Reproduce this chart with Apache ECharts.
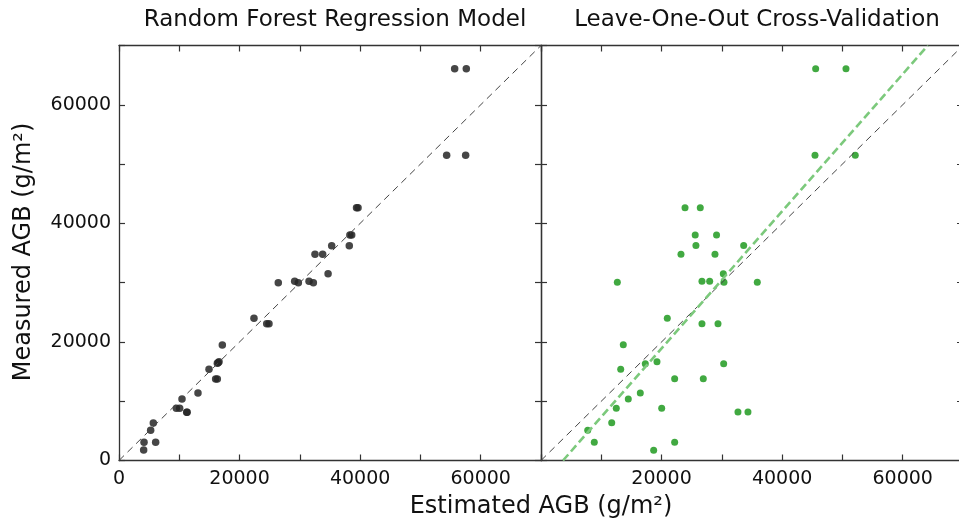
<!DOCTYPE html>
<html><head><meta charset="utf-8">
<script src="https://cdn.jsdelivr.net/npm/echarts@6/dist/echarts.min.js"></script>
<style>html,body{margin:0;padding:0;background:#fff}#c{width:959px;height:525px}</style>
</head><body><div id="c"></div>
<script>
// Random Forest model: estimated (x) vs measured (y)
const rfX = [55680,57610,54350,57500,39400,39650,38300,38600,38200,35280,32510,33780,34680,26420,29140,29750,31520,32240,22390,24500,24880,17140,16590,16310,16450,14930,16030,16310,13100,10450,9510,10060,11230,11300,5690,5250,4150,6080,4090];
const rfY = [66090,66090,51480,51480,42640,42640,38040,38040,36230,36230,34780,34780,31510,29990,30230,29990,30230,29990,23990,23080,23080,19480,16660,16390,16500,15380,13750,13750,11390,10370,8800,8800,8130,8130,6320,5090,3070,3070,1770];
// Leave-one-out CV: estimated (x) vs measured (y)
const looX = [45560,50590,45450,52130,23890,26420,25580,29120,25700,33620,23220,28860,30240,12660,26700,30350,27980,35880,20950,26700,29360,13650,19240,17300,30300,13220,22170,26920,16470,14480,12490,20020,32670,34330,11730,7750,8840,22170,18690];
const looY = [66090,66090,51480,51480,42640,42640,38040,38040,36280,36280,34780,34780,31510,30060,30230,30060,30230,30060,23990,23080,23080,19530,16660,16330,16330,15380,13800,13800,11390,10370,8800,8800,8180,8180,6380,5090,3070,3070,1720];
// CV regression fit line (y = slope*x + intercept)
const fitSlope = 1.1565;
const fitIntercept = -4221;
const axisMax = 70000;
const titles = ['Random Forest Regression Model', 'Leave-One-Out Cross-Validation'];
const xName = 'Estimated AGB (g/m²)';
const yName = 'Measured AGB (g/m²)';

const FONT = 'DejaVu Sans';
const AXC = '#333';
const zip = (a,b) => a.map((v,i)=>[v,b[i]]);
const fitLine = [[(0-fitIntercept)/fitSlope, 0], [(axisMax-fitIntercept)/fitSlope, axisMax]];

function xAx(gi, pos, showLab, hideZero){
  return {type:'value', gridIndex:gi, position:pos, min:0, max:axisMax, interval:10000,
    axisLine:{show:true, onZero:false, lineStyle:{color:AXC, width:1.3}},
    axisTick:{show:true, inside:true, length:6, lineStyle:{color:AXC, width:1.2}},
    splitLine:{show:false},
    axisLabel:{show:showLab, color:'#111', fontFamily:FONT, fontSize:19, margin:9,
      formatter:v => (v % 20000 === 0 && !(hideZero && v===0)) ? String(v) : ''}};
}
function yAx(gi, pos, showLab){
  return {type:'value', gridIndex:gi, position:pos, min:0, max:axisMax, interval:10000,
    axisLine:{show:true, onZero:false, lineStyle:{color:AXC, width:1.3}},
    axisTick:{show:true, inside:true, length:6, lineStyle:{color:AXC, width:1.2}},
    splitLine:{show:false},
    axisLabel:{show:showLab, color:'#111', fontFamily:FONT, fontSize:19, margin:8,
      formatter:v => (v % 20000 === 0) ? String(v) : ''}};
}

const chart = echarts.init(document.getElementById('c'), null, {renderer:'canvas'});
chart.setOption({
  backgroundColor:'#fff',
  animation:false,
  title:[
    {text:titles[0], left:330, top:4, textAlign:'center', textStyle:{fontFamily:FONT, fontSize:23, fontWeight:'normal', color:'#111'}},
    {text:titles[1], left:752, top:4, textAlign:'center', textStyle:{fontFamily:FONT, fontSize:23, fontWeight:'normal', color:'#111'}}
  ],
  grid:[
    {left:119, top:45.5, width:422, height:415, outerBoundsMode:'none', containLabel:false},
    {left:541, top:45.5, width:422, height:415, outerBoundsMode:'none', containLabel:false}
  ],
  xAxis:[xAx(0,'bottom',true,false), xAx(0,'top',false,false), xAx(1,'bottom',true,true), xAx(1,'top',false,false)],
  yAxis:[yAx(0,'left',true), yAx(0,'right',false), yAx(1,'left',false), yAx(1,'right',false)],
  series:[
    {type:'line', xAxisIndex:0, yAxisIndex:0, data:[[0,0],[axisMax,axisMax]], symbol:'none',
      lineStyle:{color:'#444', width:1, type:[7,5]}},
    {type:'scatter', xAxisIndex:0, yAxisIndex:0, data:zip(rfX,rfY), symbolSize:7.5,
      itemStyle:{color:'#262626', opacity:0.85}},
    {type:'line', xAxisIndex:2, yAxisIndex:2, data:[[0,0],[axisMax,axisMax]], symbol:'none',
      lineStyle:{color:'#444', width:1, type:[7,5]}},
    {type:'line', xAxisIndex:2, yAxisIndex:2, data:fitLine, symbol:'none', clip:true,
      lineStyle:{color:'#7cc97c', width:2.6, type:[8,4]}},
    {type:'scatter', xAxisIndex:2, yAxisIndex:2, data:zip(looX,looY), symbolSize:7,
      itemStyle:{color:'#2ca02c', opacity:0.9}}
  ],
  graphic:[
    {type:'text', x:541, y:507, style:{text:xName, font:'24px "DejaVu Sans"', fill:'#111', textAlign:'center', textVerticalAlign:'middle'}, z:10},
    {type:'text', x:24, y:252, rotation:Math.PI/2, style:{text:yName, font:'24px "DejaVu Sans"', fill:'#111', textAlign:'center', textVerticalAlign:'middle'}}
  ]
});
</script></body></html>
